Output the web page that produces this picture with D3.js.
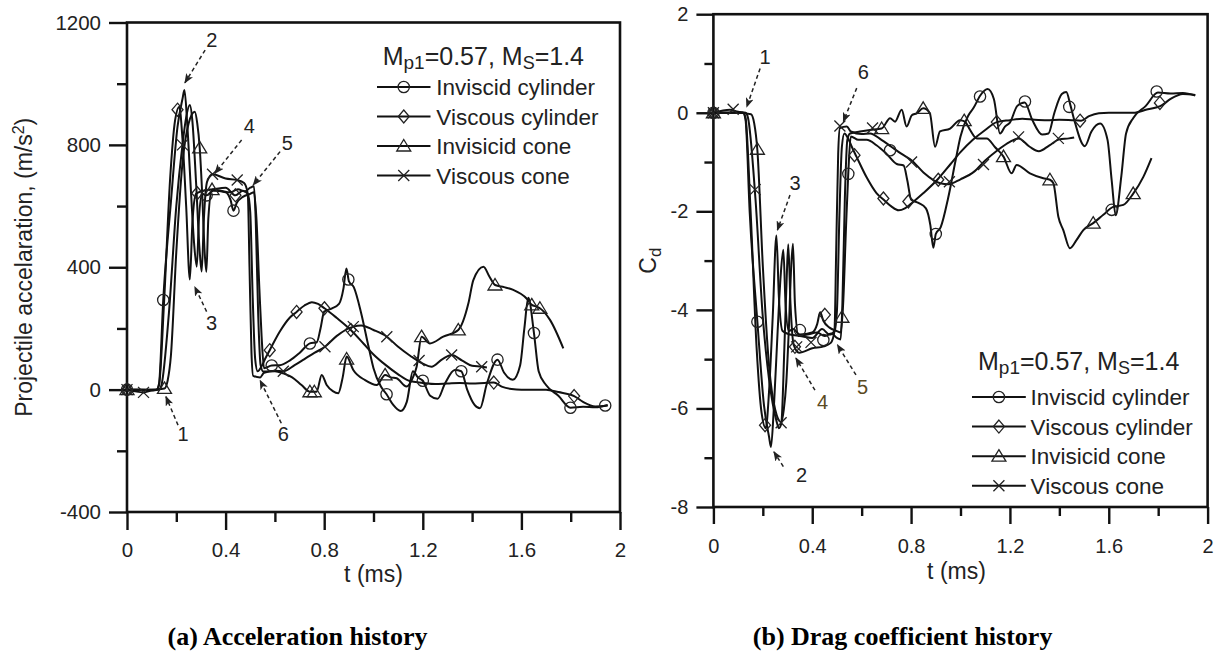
<!DOCTYPE html>
<html><head><meta charset="utf-8">
<script src="https://cdn.jsdelivr.net/npm/d3@7/dist/d3.min.js"></script>
<style>
html,body{margin:0;padding:0;background:#fff;}
svg{display:block;}
text{font-family:"Liberation Sans",Arial,sans-serif;fill:#222;}
text.caption{font-family:"Liberation Serif","Times New Roman",serif;font-weight:bold;fill:#000;}
</style></head><body>
<svg id="chart" width="1224" height="653"></svg>
<script>
// ---------------- DATA ----------------
const seriesNames = ["Inviscid cylinder","Viscous cylinder","Invisicid cone","Viscous cone"];
const markerShapes = ["circle","diamond","triangle","cross"];

const tTicks = [0,0.4,0.8,1.2,1.6,2];
const tTickLabels = ["0","0.4","0.8","1.2","1.6","2"];
const tMinor = [0.2,0.6,1.0,1.4,1.8];

const accTicks = [-400,0,400,800,1200];
const accTickLabels = ["-400","0","400","800","1200"];
const accMinor = [-200,200,600,1000];

const cdTicks = [-8,-6,-4,-2,0,2];
const cdTickLabels = ["-8","-6","-4","-2","0","2"];
const cdMinor = [-7,-5,-3,-1,1];

// acceleration (m/s2) vs t (ms)
const accIC = [[0,0],[0.05,0],[0.12,0],[0.13,20],[0.147,293],[0.178,612],[0.205,860],[0.225,950],[0.233,979],[0.245,860],[0.26,640],[0.272,480],[0.283,402],[0.292,560],[0.305,640],[0.323,635],[0.35,650],[0.4,645],[0.42,620],[0.432,585],[0.445,610],[0.47,630],[0.5,640],[0.515,645],[0.525,560],[0.537,330],[0.546,175],[0.556,70],[0.587,79],[0.62,80],[0.66,95],[0.7,120],[0.742,151],[0.77,155],[0.785,200],[0.8,255],[0.83,265],[0.86,280],[0.878,330],[0.89,396],[0.9,355],[0.92,335],[0.95,250],[0.98,140],[1.0,70],[1.03,10],[1.053,-15],[1.08,-50],[1.11,-70],[1.135,-40],[1.16,60],[1.18,40],[1.2,29],[1.23,-20],[1.26,-30],[1.29,20],[1.33,64],[1.356,60],[1.38,0],[1.41,-50],[1.432,-61],[1.46,20],[1.503,98],[1.53,55],[1.565,32],[1.595,80],[1.612,200],[1.628,300],[1.651,185],[1.67,60],[1.7,15],[1.75,-20],[1.799,-59],[1.85,-56],[1.9,-58],[1.95,-50]];
const accVC = [[0,0],[0.05,0],[0.1,-2],[0.12,0],[0.13,15],[0.15,280],[0.175,690],[0.195,880],[0.212,925],[0.225,820],[0.24,600],[0.255,360],[0.265,540],[0.28,640],[0.31,650],[0.35,655],[0.4,660],[0.44,635],[0.47,650],[0.49,640],[0.5,580],[0.51,300],[0.52,100],[0.53,60],[0.545,75],[0.56,100],[0.579,129],[0.62,190],[0.66,235],[0.688,254],[0.72,275],[0.75,286],[0.775,280],[0.801,266],[0.85,235],[0.908,195],[0.96,150],[1.0,115],[1.05,80],[1.1,50],[1.147,28],[1.2,22],[1.25,18],[1.3,20],[1.35,22],[1.4,20],[1.45,22],[1.488,23],[1.52,10],[1.56,2],[1.6,0],[1.7,0],[1.75,-8],[1.814,-21],[1.85,-40],[1.9,-55],[1.95,-52]];
const accICone = [[0,0],[0.05,0],[0.1,0],[0.152,4],[0.165,30],[0.178,110],[0.2,450],[0.225,740],[0.25,870],[0.275,908],[0.285,870],[0.295,790],[0.305,640],[0.315,450],[0.322,385],[0.33,560],[0.345,654],[0.38,650],[0.42,645],[0.45,655],[0.478,648],[0.5,660],[0.515,665],[0.522,560],[0.532,250],[0.542,80],[0.553,59],[0.6,60],[0.634,53],[0.67,40],[0.708,15],[0.742,-7],[0.769,-7],[0.79,48],[0.81,15],[0.835,-5],[0.857,-12],[0.875,40],[0.891,108],[0.918,64],[0.966,31],[1.013,15],[1.047,48],[1.07,40],[1.094,37],[1.134,10],[1.16,40],[1.175,75],[1.195,173],[1.229,151],[1.283,173],[1.344,195],[1.385,282],[1.405,358],[1.446,402],[1.47,370],[1.493,342],[1.53,335],[1.567,326],[1.621,298],[1.642,277],[1.662,271],[1.675,266],[1.716,228],[1.77,135]];
const accVCone = [[0,0],[0.067,-9],[0.1,-3],[0.13,0],[0.14,15],[0.17,250],[0.2,600],[0.225,800],[0.24,890],[0.255,930],[0.265,880],[0.28,680],[0.295,450],[0.303,386],[0.312,560],[0.325,680],[0.347,704],[0.4,690],[0.447,685],[0.475,675],[0.49,640],[0.497,400],[0.505,120],[0.512,45],[0.54,40],[0.556,55],[0.6,62],[0.634,60],[0.68,80],[0.72,100],[0.76,120],[0.803,140],[0.85,175],[0.918,206],[0.95,210],[1.0,195],[1.054,173],[1.1,140],[1.15,110],[1.2,85],[1.235,75],[1.28,100],[1.317,113],[1.36,95],[1.4,78],[1.439,75],[1.46,72]];

const accICm = [[0,0],[0.147,293],[0.323,635],[0.432,585],[0.587,79],[0.742,151],[0.898,360],[1.053,-15],[1.2,29],[1.356,60],[1.503,98],[1.651,185],[1.799,-59],[1.94,-52]];
const accVCm = [[0,0],[0.205,915],[0.285,642],[0.44,635],[0.579,129],[0.688,254],[0.801,266],[0.908,195],[1.488,23],[1.814,-21]];
const accIConem = [[0,0],[0.152,4],[0.295,790],[0.345,654],[0.742,-7],[0.76,-7],[0.891,100],[1.047,48],[1.195,173],[1.344,195],[1.493,342],[1.642,277],[1.675,266]];
const accVConem = [[0,0],[0.067,-9],[0.225,800],[0.347,704],[0.447,685],[0.634,60],[0.803,140],[0.918,206],[1.054,173],[1.185,95],[1.317,113],[1.439,75]];

// drag coefficient Cd vs t (ms)
const cdIC = [[0,0],[0.05,0],[0.12,0],[0.13,-0.14],[0.147,-2.03],[0.178,-4.24],[0.205,-5.95],[0.225,-6.57],[0.233,-6.78],[0.245,-5.95],[0.26,-4.43],[0.272,-3.32],[0.283,-2.78],[0.292,-3.88],[0.305,-4.43],[0.323,-4.39],[0.35,-4.5],[0.4,-4.46],[0.42,-4.29],[0.432,-4.05],[0.445,-4.22],[0.47,-4.36],[0.5,-4.43],[0.515,-4.46],[0.525,-3.88],[0.537,-2.28],[0.546,-1.21],[0.556,-0.48],[0.587,-0.55],[0.62,-0.55],[0.66,-0.66],[0.7,-0.83],[0.742,-1.04],[0.77,-1.07],[0.785,-1.38],[0.8,-1.76],[0.83,-1.83],[0.86,-1.94],[0.878,-2.28],[0.89,-2.74],[0.9,-2.46],[0.92,-2.32],[0.95,-1.73],[0.98,-0.97],[1.0,-0.48],[1.03,-0.07],[1.053,0.1],[1.08,0.35],[1.11,0.48],[1.135,0.28],[1.16,-0.42],[1.18,-0.28],[1.2,-0.2],[1.23,0.14],[1.26,0.21],[1.29,-0.14],[1.33,-0.44],[1.356,-0.42],[1.38,0],[1.41,0.38],[1.428,0.42],[1.445,0.15],[1.46,-0.14],[1.503,-0.68],[1.53,-0.38],[1.565,-0.22],[1.595,-0.55],[1.612,-1.38],[1.628,-2.08],[1.651,-1.28],[1.67,-0.42],[1.7,-0.1],[1.75,0.14],[1.799,0.41],[1.85,0.39],[1.9,0.4],[1.95,0.35]];
const cdVC = [[0,0],[0.05,0],[0.1,0.01],[0.12,0],[0.13,-0.1],[0.15,-1.94],[0.175,-4.78],[0.195,-6.09],[0.212,-6.4],[0.225,-5.67],[0.24,-4.15],[0.255,-2.49],[0.265,-3.74],[0.28,-4.43],[0.31,-4.5],[0.35,-4.53],[0.4,-4.57],[0.44,-4.39],[0.47,-4.5],[0.49,-4.43],[0.5,-4.01],[0.51,-2.08],[0.52,-0.69],[0.53,-0.42],[0.545,-0.52],[0.56,-0.69],[0.579,-0.89],[0.62,-1.31],[0.66,-1.63],[0.688,-1.76],[0.72,-1.9],[0.75,-1.98],[0.775,-1.94],[0.801,-1.84],[0.85,-1.63],[0.908,-1.35],[0.96,-1.04],[1.0,-0.8],[1.05,-0.55],[1.1,-0.35],[1.147,-0.19],[1.2,-0.15],[1.25,-0.12],[1.3,-0.14],[1.35,-0.15],[1.4,-0.14],[1.45,-0.15],[1.488,-0.16],[1.52,-0.07],[1.56,-0.01],[1.6,0],[1.7,0],[1.75,0.06],[1.814,0.15],[1.85,0.28],[1.9,0.38],[1.95,0.36]];
const cdICone = [[0,0],[0.05,0],[0.1,0],[0.152,-0.03],[0.165,-0.21],[0.178,-0.76],[0.2,-3.11],[0.225,-5.12],[0.25,-6.02],[0.275,-6.28],[0.285,-6.02],[0.295,-5.47],[0.305,-4.43],[0.315,-3.11],[0.322,-2.66],[0.33,-3.88],[0.345,-4.53],[0.38,-4.5],[0.42,-4.46],[0.45,-4.53],[0.478,-4.48],[0.5,-4.57],[0.515,-4.6],[0.522,-3.88],[0.532,-1.73],[0.542,-0.55],[0.553,-0.42],[0.593,-0.38],[0.634,-0.35],[0.681,-0.32],[0.715,-0.11],[0.735,-0.18],[0.762,0.06],[0.782,-0.28],[0.803,-0.05],[0.823,-0.01],[0.849,0.09],[0.876,-0.01],[0.897,-0.69],[0.917,-0.38],[0.958,-0.32],[0.998,-0.15],[1.018,-0.18],[1.039,-0.35],[1.066,-0.52],[1.106,-0.52],[1.14,-0.7],[1.174,-0.89],[1.207,-1.23],[1.227,-1.06],[1.281,-1.23],[1.335,-1.33],[1.362,-1.36],[1.376,-1.43],[1.396,-2.11],[1.416,-2.38],[1.443,-2.75],[1.47,-2.58],[1.497,-2.38],[1.537,-2.24],[1.578,-2.07],[1.618,-1.91],[1.659,-1.87],[1.699,-1.64],[1.74,-1.3],[1.773,-0.92]];
const cdVCone = [[0,0],[0.067,0.06],[0.1,0.02],[0.13,0],[0.14,-0.1],[0.17,-1.73],[0.2,-4.15],[0.225,-5.4],[0.24,-5.9],[0.255,-6.25],[0.265,-6.4],[0.275,-6.3],[0.287,-4.8],[0.297,-3.3],[0.303,-2.67],[0.312,-3.88],[0.325,-4.71],[0.347,-4.87],[0.4,-4.78],[0.447,-4.74],[0.475,-4.67],[0.49,-4.43],[0.497,-2.77],[0.505,-0.83],[0.512,-0.31],[0.54,-0.28],[0.556,-0.38],[0.6,-0.43],[0.634,-0.42],[0.68,-0.55],[0.72,-0.69],[0.76,-0.83],[0.803,-0.97],[0.85,-1.21],[0.918,-1.43],[0.95,-1.45],[1.0,-1.35],[1.054,-1.2],[1.1,-0.97],[1.15,-0.76],[1.2,-0.59],[1.235,-0.52],[1.28,-0.69],[1.317,-0.78],[1.36,-0.66],[1.4,-0.54],[1.439,-0.52],[1.46,-0.5]];

const cdICm = [[0,0],[0.178,-4.24],[0.35,-4.41],[0.445,-4.61],[0.546,-1.24],[0.715,-0.76],[0.9,-2.46],[1.079,0.33],[1.261,0.23],[1.44,0.12],[1.612,-1.97],[1.794,0.43]];
const cdVCm = [[0,0],[0.209,-6.34],[0.33,-4.75],[0.451,-4.1],[0.571,-0.86],[0.688,-1.74],[0.789,-1.8],[0.91,-1.36],[1.147,-0.19],[1.484,-0.16],[1.807,0.2]];
const cdIConem = [[0,0],[0.178,-0.74],[0.52,-4.15],[0.681,-0.32],[0.849,0.09],[1.015,-0.16],[1.174,-0.89],[1.362,-1.36],[1.537,-2.24],[1.699,-1.64]];
const cdVConem = [[0,0],[0.08,0.07],[0.169,-1.56],[0.274,-6.29],[0.337,-4.75],[0.395,-4.66],[0.512,-0.27],[0.644,-0.31],[0.802,-1.0],[0.955,-1.4],[1.093,-1.05],[1.235,-0.49],[1.396,-0.52]];

// numbered annotations: label position, arrow tail and arrow head (data units)
const accNotes = [
  {n:"1", lx:0.227, ly:-143, x1:0.207, y1:-116, x2:0.158, y2:-23},
  {n:"2", lx:0.344, ly:1143, x1:0.317, y1:1110, x2:0.235, y2:1003},
  {n:"3", lx:0.343, ly:217,  x1:0.323, y1:255,  x2:0.275, y2:336},
  {n:"4", lx:0.496, ly:862,  x1:0.465, y1:816,  x2:0.357, y2:707},
  {n:"5", lx:0.650, ly:807,  x1:0.621, y1:778,  x2:0.512, y2:669},
  {n:"6", lx:0.634, ly:-143, x1:0.626, y1:-110, x2:0.540, y2:30}
];
const cdNotes = [
  {n:"1", lx:0.209, ly:1.14,  x1:0.189, y1:0.90,  x2:0.135, y2:0.12},
  {n:"2", lx:0.357, ly:-7.35, x1:0.283, y1:-7.18, x2:0.245, y2:-6.88},
  {n:"3", lx:0.330, ly:-1.42, x1:0.310, y1:-1.67, x2:0.259, y2:-2.38},
  {n:"4", lx:0.442, ly:-5.86, x1:0.411, y1:-5.63, x2:0.334, y2:-4.98},
  {n:"5", lx:0.604, ly:-5.56, x1:0.577, y1:-5.32, x2:0.502, y2:-4.71},
  {n:"6", lx:0.607, ly:0.83,  x1:0.580, y1:0.50,  x2:0.526, y2:-0.18}
];

// ---------------- DRAWING ----------------
const svg = d3.select("#chart");
const defs = svg.append("defs");
defs.append("marker").attr("id","arrow").attr("viewBox","0 0 10 8")
  .attr("refX",9).attr("refY",4).attr("markerWidth",10).attr("markerHeight",8)
  .attr("markerUnits","userSpaceOnUse").attr("orient","auto")
  .append("path").attr("d","M0,0 L10,4 L0,8 L2.5,4 Z").attr("fill","#222");

function markerPath(shape){
  if(shape==="circle") return d3.symbol().type(d3.symbolCircle).size(100)();
  if(shape==="diamond") return "M0,-6.5L5.5,0L0,6.5L-5.5,0Z";
  if(shape==="triangle") return "M0,-6.5L7,5L-7,5Z";
  return "M-5.5,-5.5L5.5,5.5M-5.5,5.5L5.5,-5.5";
}

function drawPanel(cfg){
  const g = svg.append("g");
  const x = d3.scaleLinear().domain([0,2]).range([cfg.x0,cfg.x1]);
  const y = d3.scaleLinear().domain(cfg.yDomain).range([cfg.y1,cfg.y0]);

  const styleAxis = sel => {
    sel.select(".domain").remove();
    sel.selectAll(".tick line").attr("stroke","#111").attr("stroke-width",2.4);
    sel.selectAll(".tick text").attr("font-size",cfg.tickFont).attr("fill","#222");
  };
  g.append("g").attr("transform",`translate(${cfg.x0},0)`)
    .call(d3.axisLeft(y).tickValues(cfg.yMinor).tickSize(cfg.minorLen).tickFormat(""))
    .call(styleAxis);
  g.append("g").attr("transform",`translate(${cfg.x0},0)`)
    .call(d3.axisLeft(y).tickValues(cfg.yTicks).tickSize(cfg.majorLen).tickPadding(8)
      .tickFormat((d,i)=>cfg.yLabels[i]))
    .call(styleAxis);
  g.append("g").attr("transform",`translate(0,${cfg.y1})`)
    .call(d3.axisBottom(x).tickValues(tMinor).tickSize(cfg.minorLen).tickFormat(""))
    .call(styleAxis);
  g.append("g").attr("transform",`translate(0,${cfg.y1})`)
    .call(d3.axisBottom(x).tickValues(tTicks).tickSize(cfg.majorLen).tickPadding(cfg.xPad)
      .tickFormat((d,i)=>tTickLabels[i]))
    .call(styleAxis);

  g.append("rect").attr("x",cfg.x0).attr("y",cfg.y0)
    .attr("width",cfg.x1-cfg.x0).attr("height",cfg.y1-cfg.y0)
    .attr("fill","none").attr("stroke","#111").attr("stroke-width",2.6);

  const line = d3.line().x(d=>x(d[0])).y(d=>y(d[1])).curve(d3.curveMonotoneX);
  cfg.series.forEach(s=>{
    g.append("path").datum(s).attr("d",line)
      .attr("fill","none").attr("stroke","#111").attr("stroke-width",2)
      .attr("stroke-linejoin","round");
  });
  cfg.markers.forEach((m,i)=>{
    g.append("g").selectAll("path").data(m).join("path")
      .attr("transform",d=>`translate(${x(d[0])},${y(d[1])})`)
      .attr("d",markerPath(markerShapes[i]))
      .attr("fill","none").attr("stroke","#222").attr("stroke-width",1.3);
  });

  cfg.notes.forEach(a=>{
    g.append("line").attr("x1",x(a.x1)).attr("y1",y(a.y1)).attr("x2",x(a.x2)).attr("y2",y(a.y2))
      .attr("stroke","#222").attr("stroke-width",1.5).attr("stroke-dasharray","4,3")
      .attr("marker-end","url(#arrow)");
    g.append("text").attr("x",x(a.lx)).attr("y",y(a.ly)).attr("dy","0.36em")
      .attr("text-anchor","middle").attr("font-size",20)
      .style("fill",(cfg.brown||[]).includes(a.n)?"#5a4a22":"#222").text(a.n);
  });

  const L = cfg.legend;
  const title = g.append("text").attr("x",L.titleX).attr("y",L.titleY).attr("font-size",25);
  title.append("tspan").text("M");
  title.append("tspan").attr("font-size",19).attr("dy",4).text("p1");
  title.append("tspan").attr("dy",-4).text("=0.57, M");
  title.append("tspan").attr("font-size",18).attr("dy",4).text("S");
  title.append("tspan").attr("dy",-4).text("=1.4");
  seriesNames.forEach((nm,i)=>{
    const by = L.rowY + i*L.rowH;
    const cy = by - 8;
    g.append("line").attr("x1",L.lineX0).attr("x2",L.lineX1).attr("y1",cy).attr("y2",cy)
      .attr("stroke","#111").attr("stroke-width",2);
    g.append("path").attr("transform",`translate(${(L.lineX0+L.lineX1)/2},${cy})`)
      .attr("d",markerPath(markerShapes[i])).attr("fill","none").attr("stroke","#222").attr("stroke-width",1.3);
    g.append("text").attr("x",L.textX).attr("y",by).attr("font-size",22.5).text(nm);
  });

  g.append("text").attr("x",(cfg.x0+cfg.x1)/2 + (cfg.xTitleShift||0)).attr("y",cfg.xTitleY)
    .attr("text-anchor","middle").attr("font-size",23).text("t (ms)");
  const yt = g.append("text").attr("transform",`translate(${cfg.yTitleX},${(cfg.y0+cfg.y1)/2}) rotate(-90)`)
    .attr("text-anchor","middle").attr("font-size",23);
  cfg.yTitle(yt);

  g.append("text").attr("class","caption").attr("x",cfg.capX).attr("y",645).attr("text-anchor","middle")
    .attr("font-size",26).text(cfg.caption);
}

drawPanel({
  x0:127, x1:620, y0:22.5, y1:512, yDomain:[-400,1200],
  yTicks:accTicks, yLabels:accTickLabels, yMinor:accMinor,
  majorLen:18, minorLen:10, xPad:12, tickFont:20.5,
  series:[accIC,accVC,accICone,accVCone],
  markers:[accICm,accVCm,accIConem,accVConem],
  notes:accNotes,
  legend:{titleX:382.7, titleY:65, rowY:95, rowH:29.5, lineX0:377, lineX1:430.5, textX:436.3},
  xTitleY:582, yTitleX:32,
  yTitle: t=>{
    t.append("tspan").text("Projectile accelaration, (m/s");
    t.append("tspan").attr("font-size",16).attr("dy",-8).text("2");
    t.append("tspan").attr("dy",8).text(")");
  },
  capX:297.5, caption:"(a) Acceleration history"
});

drawPanel({
  x0:713.4, x1:1207.6, y0:14.2, y1:507, yDomain:[-8,2],
  yTicks:cdTicks, yLabels:cdTickLabels, yMinor:cdMinor,
  majorLen:17, minorLen:9, xPad:15, tickFont:20,
  series:[cdIC,cdVC,cdICone,cdVCone],
  markers:[cdICm,cdVCm,cdIConem,cdVConem],
  notes:cdNotes, brown:["4","5"],
  legend:{titleX:978, titleY:370, rowY:405, rowH:29.6, lineX0:972, lineX1:1025.8, textX:1030.6},
  xTitleY:579, xTitleShift:-4, yTitleX:656,
  yTitle: t=>{
    t.append("tspan").text("C");
    t.append("tspan").attr("font-size",17).attr("dy",5).text("d");
  },
  capX:902.6, caption:"(b) Drag coefficient history"
});
</script></body></html>
